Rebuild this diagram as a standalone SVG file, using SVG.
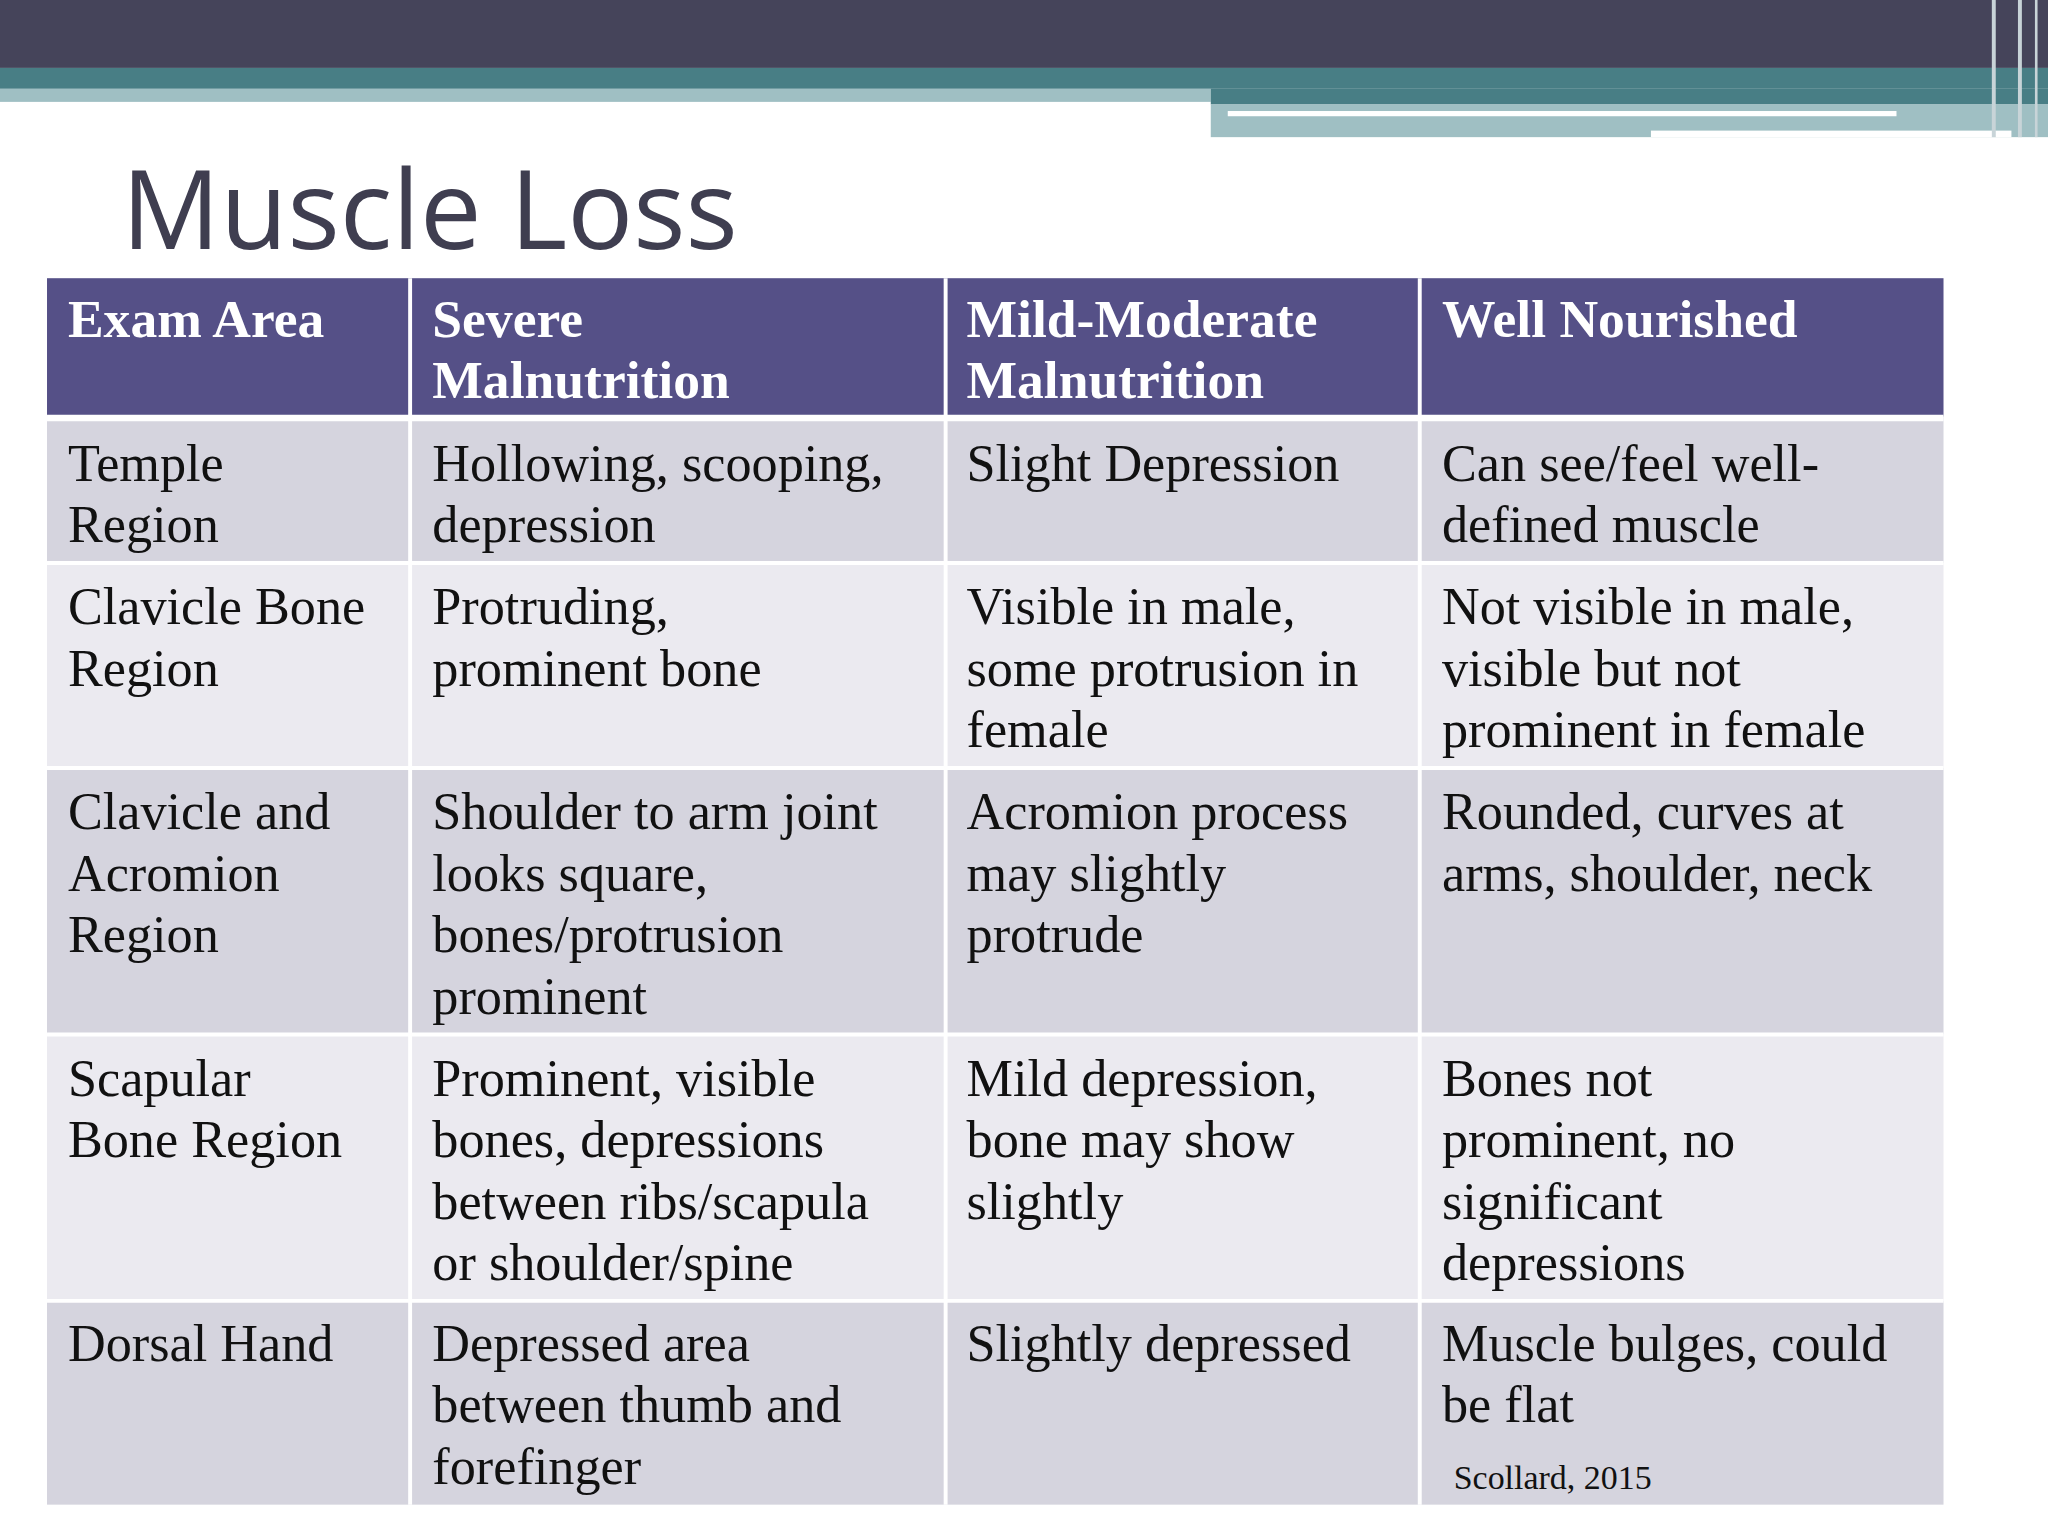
<svg xmlns="http://www.w3.org/2000/svg" width="2048" height="1536" viewBox="0 0 2048 1536">
<style>
.h{font-family:"Liberation Serif",serif;font-weight:bold;font-size:41px;fill:#fff}
.t{font-family:"Liberation Serif",serif;font-size:40px;fill:#111}
.c{stroke:#fff;stroke-width:3}
</style>
<rect width="2048" height="1536" fill="#fff"/>
<g transform="scale(1.30612)">
<g id="banner">
<rect x="0" y="0" width="1568" height="52" fill="#45445a"/>
<rect x="0" y="52" width="1568" height="16" fill="#487e85"/>
<rect x="0" y="68" width="927" height="10" fill="#9fbfc3"/>
<rect x="927" y="68" width="641" height="12" fill="#487e85"/>
<rect x="927" y="80" width="641" height="25" fill="#9fbfc3"/>
<rect x="940" y="85" width="512" height="4" fill="#fff"/>
<rect x="1264" y="100" width="276" height="5" fill="#fff"/>
<rect x="1525" y="0" width="3" height="105" fill="#c8d4d8"/>
<rect x="1545" y="0" width="3" height="105" fill="#c8d4d8"/>
<rect x="1558" y="0" width="2" height="105" fill="#c8d4d8"/>
</g>
<text id="title" x="93" y="191" font-family="Open Sans, sans-serif" font-size="84" fill="#3f3e50">Muscle Loss</text>
<g id="table">
<rect x="36" y="213" width="1452" height="106" fill="#555087"/>
<rect x="36" y="319" width="1452" height="112" fill="#d5d4de"/>
<rect x="36" y="431" width="1452" height="157" fill="#ebeaf0"/>
<rect x="36" y="588" width="1452" height="204" fill="#d5d4de"/>
<rect x="36" y="792" width="1452" height="204" fill="#ebeaf0"/>
<rect x="36" y="996" width="1452" height="156" fill="#d5d4de"/>
<g class="c">
<line x1="314" y1="213" x2="314" y2="1152"/><line x1="724" y1="213" x2="724" y2="1152"/><line x1="1087" y1="213" x2="1087" y2="1152"/>
<line x1="36" y1="320" x2="1488" y2="320" stroke-width="5"/><line x1="36" y1="431" x2="1488" y2="431"/><line x1="36" y1="588" x2="1488" y2="588"/><line x1="36" y1="792" x2="1488" y2="792"/><line x1="36" y1="996" x2="1488" y2="996"/>
</g>
<text class="h" x="52" y="258">Exam Area</text>
<text class="h" x="331" y="258">Severe<tspan x="331" dy="47">Malnutrition</tspan></text>
<text class="h" x="740" y="258">Mild-Moderate<tspan x="740" dy="47">Malnutrition</tspan></text>
<text class="h" x="1104" y="258">Well Nourished</text>

<text class="t" x="52" y="368">Temple<tspan x="52" dy="47">Region</tspan></text>
<text class="t" x="331" y="368">Hollowing, scooping,<tspan x="331" dy="47">depression</tspan></text>
<text class="t" x="740" y="368">Slight Depression</text>
<text class="t" x="1104" y="368">Can see/feel well-<tspan x="1104" dy="47">defined muscle</tspan></text>

<text class="t" x="52" y="478">Clavicle Bone<tspan x="52" dy="47">Region</tspan></text>
<text class="t" x="331" y="478">Protruding,<tspan x="331" dy="47">prominent bone</tspan></text>
<text class="t" x="740" y="478">Visible in male,<tspan x="740" dy="47">some protrusion in</tspan><tspan x="740" dy="47">female</tspan></text>
<text class="t" x="1104" y="478">Not visible in male,<tspan x="1104" dy="47">visible but not</tspan><tspan x="1104" dy="47">prominent in female</tspan></text>

<text class="t" x="52" y="635">Clavicle and<tspan x="52" dy="47">Acromion</tspan><tspan x="52" dy="47">Region</tspan></text>
<text class="t" x="331" y="635">Shoulder to arm joint<tspan x="331" dy="47">looks square,</tspan><tspan x="331" dy="47">bones/protrusion</tspan><tspan x="331" dy="47">prominent</tspan></text>
<text class="t" x="740" y="635">Acromion process<tspan x="740" dy="47">may slightly</tspan><tspan x="740" dy="47">protrude</tspan></text>
<text class="t" x="1104" y="635">Rounded, curves at<tspan x="1104" dy="47">arms, shoulder, neck</tspan></text>

<text class="t" x="52" y="839">Scapular<tspan x="52" dy="47">Bone Region</tspan></text>
<text class="t" x="331" y="839">Prominent, visible<tspan x="331" dy="47">bones, depressions</tspan><tspan x="331" dy="47">between ribs/scapula</tspan><tspan x="331" dy="47">or shoulder/spine</tspan></text>
<text class="t" x="740" y="839">Mild depression,<tspan x="740" dy="47">bone may show</tspan><tspan x="740" dy="47">slightly</tspan></text>
<text class="t" x="1104" y="839">Bones not<tspan x="1104" dy="47">prominent, no</tspan><tspan x="1104" dy="47">significant</tspan><tspan x="1104" dy="47">depressions</tspan></text>

<text class="t" x="52" y="1042">Dorsal Hand</text>
<text class="t" x="331" y="1042">Depressed area<tspan x="331" dy="47">between thumb and</tspan><tspan x="331" dy="47">forefinger</tspan></text>
<text class="t" x="740" y="1042">Slightly depressed</text>
<text class="t" x="1104" y="1042">Muscle bulges, could<tspan x="1104" dy="47">be flat</tspan></text>
<text x="1113" y="1140" font-family="Liberation Serif, serif" font-size="26" fill="#111">Scollard, 2015</text>
</g>
</g>
</svg>
